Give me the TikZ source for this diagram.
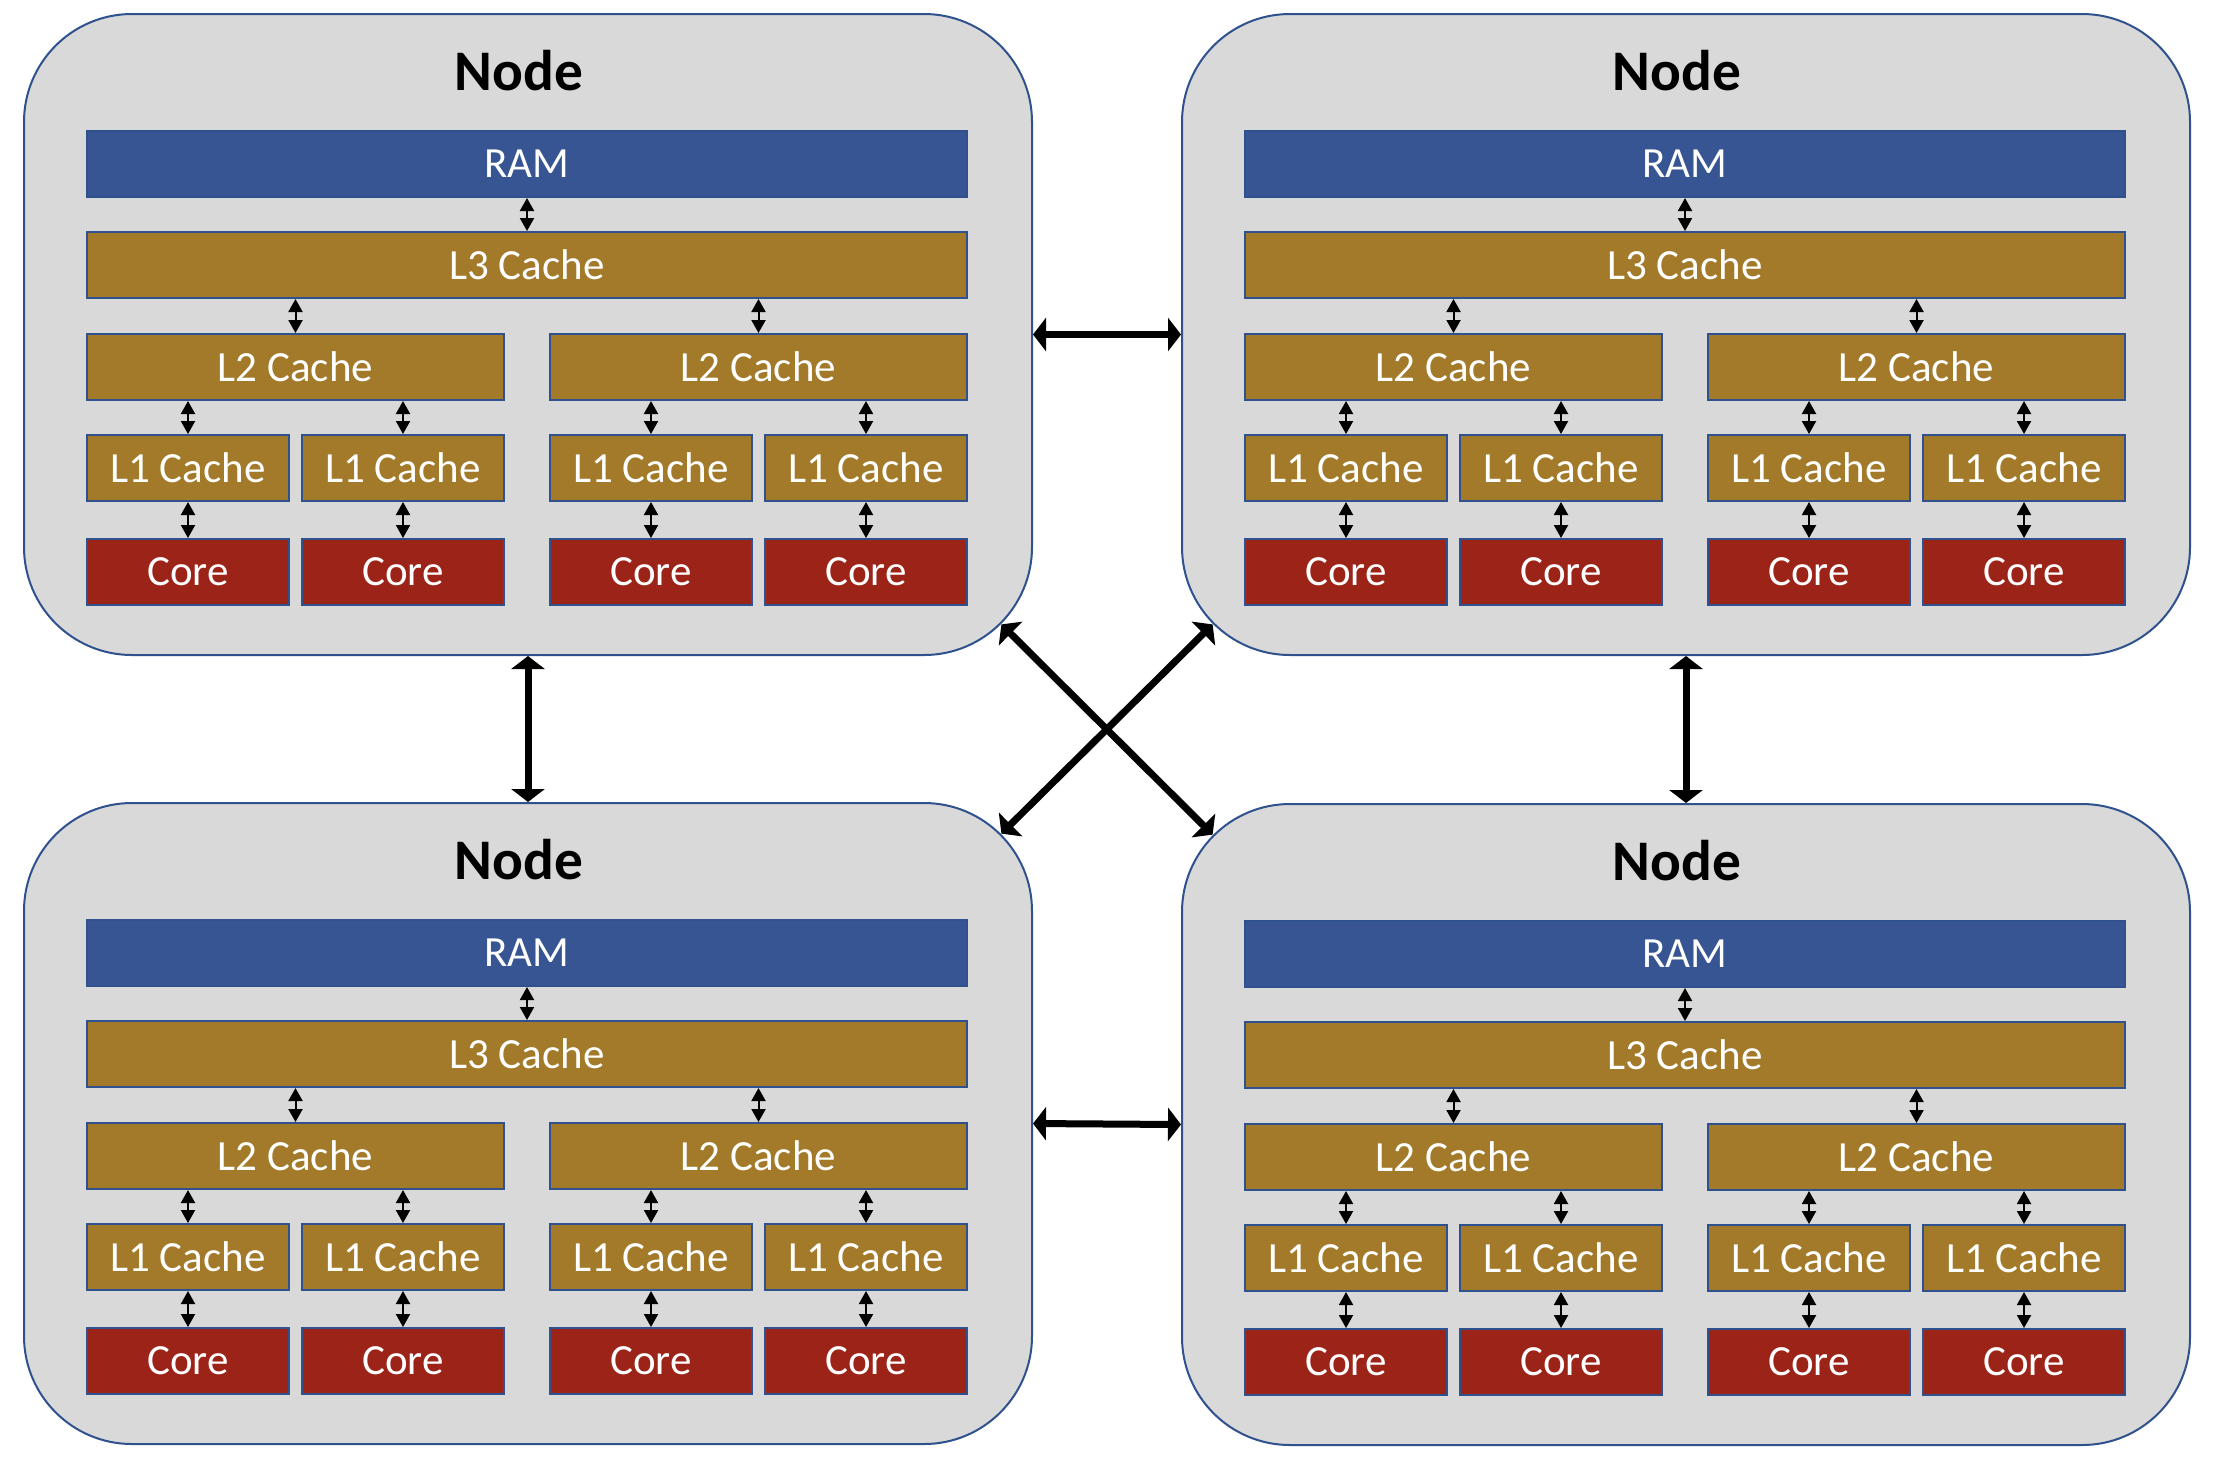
\documentclass[tikz,border=0pt]{standalone}
\usepackage{fontspec}
\setmainfont{Carlito}
\usetikzlibrary{arrows.meta,calc}
\definecolor{ramblue}{HTML}{365592}
\definecolor{gold}{HTML}{A27A29}
\definecolor{corered}{HTML}{9C2317}
\definecolor{bord}{HTML}{2F528F}
\definecolor{nodegray}{HTML}{D9D9D9}
\tikzset{
 blk/.style={draw=bord,line width=1pt,text=white,font=\fontsize{21.5}{24}\selectfont,inner sep=0pt,anchor=north west},
 ramblk/.style={blk,fill=ramblue},
 cacheblk/.style={blk,fill=gold},
 coreblk/.style={blk,fill=corered},
 nodebox/.style={draw=bord,line width=1pt,fill=nodegray,rounded corners=54pt,anchor=north west,minimum width=504pt,minimum height=320.5pt,inner sep=0pt},
 titletext/.style={font=\fontsize{28.7}{32}\selectfont\bfseries,inner sep=0pt},
 sarrow/.style={line width=1pt,{Triangle[length=6.5pt,width=7pt]}-{Triangle[length=6.5pt,width=7pt]}},
 barrow/.style={line width=3.5pt,{Triangle[length=6.5pt,width=16.5pt]}-{Triangle[length=6.5pt,width=16.5pt]}},
}
\newcommand\blk[7]{\node[#6,minimum width={(#4-#2)*0.5pt},minimum height={(#5-#3)*0.5pt}] (#1) at (#2,#3) {#7};}
\newcommand\cnode[3]{%
\begin{scope}[shift={(#2,#3)}]
\node[nodebox] (#1box) at (0,0) {};
\node[titletext] (#1title) at (496,58) {Node};
\blk{#1ram}{63}{117}{943}{183}{ramblk}{RAM}
\blk{#1l3}{63}{218}{943}{284}{cacheblk}{L3 Cache}
\blk{#1l2a}{63}{320}{480}{386}{cacheblk}{L2 Cache}
\blk{#1l2b}{526}{320}{943}{386}{cacheblk}{L2 Cache}
\blk{#1l1a}{63}{421}{265}{487}{cacheblk}{L1 Cache}
\blk{#1l1b}{278}{421}{480}{487}{cacheblk}{L1 Cache}
\blk{#1l1c}{526}{421}{728}{487}{cacheblk}{L1 Cache}
\blk{#1l1d}{741}{421}{943}{487}{cacheblk}{L1 Cache}
\blk{#1corea}{63}{525}{265}{591}{coreblk}{Core}
\blk{#1coreb}{278}{525}{480}{591}{coreblk}{Core}
\blk{#1corec}{526}{525}{728}{591}{coreblk}{Core}
\blk{#1cored}{741}{525}{943}{591}{coreblk}{Core}
\draw[sarrow] (#1ram) -- (#1l3);
\draw[sarrow] (#1l3.south -| #1l2a.north) -- (#1l2a.north);
\draw[sarrow] (#1l3.south -| #1l2b.north) -- (#1l2b.north);
\draw[sarrow] (#1l2a.south -| #1l1a.north) -- (#1l1a.north);
\draw[sarrow] (#1l2a.south -| #1l1b.north) -- (#1l1b.north);
\draw[sarrow] (#1l2b.south -| #1l1c.north) -- (#1l1c.north);
\draw[sarrow] (#1l2b.south -| #1l1d.north) -- (#1l1d.north);
\draw[sarrow] (#1l1a) -- (#1corea);
\draw[sarrow] (#1l1b) -- (#1coreb);
\draw[sarrow] (#1l1c) -- (#1corec);
\draw[sarrow] (#1l1d) -- (#1cored);
\end{scope}}
\begin{document}
\begin{tikzpicture}[x=0.5pt,y=-0.5pt]
\fill[white] (0,0) rectangle (2214,1458);
\useasboundingbox (0,0) rectangle (2214,1458);
\cnode{TL}{23}{13}
\cnode{TR}{1181}{13}
\cnode{BL}{23}{802}
\cnode{BR}{1181}{803}
\coordinate (TLse) at ($(TLbox.south east)+(-31.6,-31.6)$);
\coordinate (TRsw) at ($(TRbox.south west)+(31.6,-31.6)$);
\coordinate (BLne) at ($(BLbox.north east)+(-31.6,31.6)$);
\coordinate (BRnw) at ($(BRbox.north west)+(31.6,31.6)$);
\draw[barrow] (TLbox.east) -- (TRbox.west);
\draw[barrow] (BLbox.east) -- (BRbox.west);
\draw[barrow] (TLbox.south) -- (BLbox.north);
\draw[barrow] (TRbox.south) -- (BRbox.north);
\draw[barrow] (TLse) -- (BRnw);
\draw[barrow] (TRsw) -- (BLne);
\end{tikzpicture}
\end{document}
